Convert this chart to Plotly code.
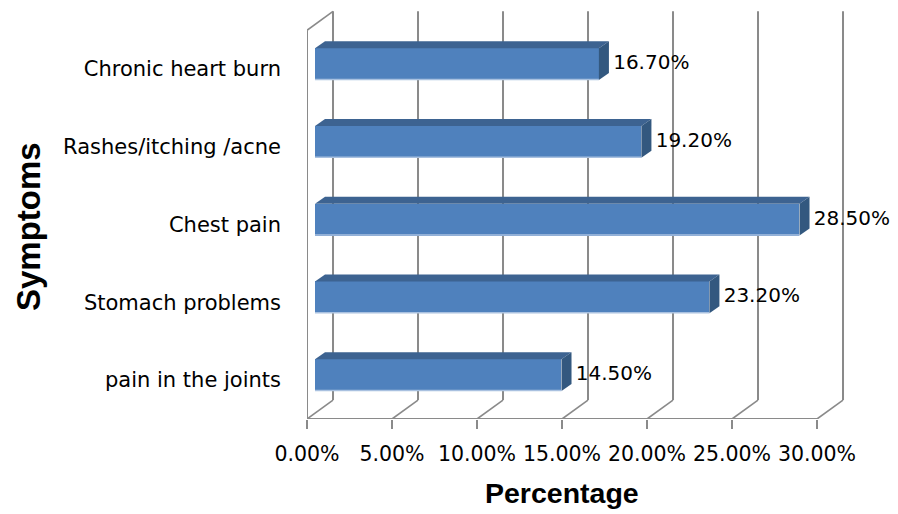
import plotly.graph_objects as go

# ---------------- data ----------------
categories = ["pain in the joints", "Stomach problems", "Chest pain",
              "Rashes/itching /acne", "Chronic heart burn"]
values = [14.5, 23.2, 28.5, 19.2, 16.7]
value_labels = ["14.50%", "23.20%", "28.50%", "19.20%", "16.70%"]
x_ticks = [0, 5, 10, 15, 20, 25, 30]
x_tick_labels = ["0.00%", "5.00%", "10.00%", "15.00%", "20.00%", "25.00%", "30.00%"]
x_title = "Percentage"
y_title = "Symptoms"

# ---------------- style / geometry (pseudo 3D) ----------------
WALL_DX, WALL_DY = 1.53, 0.244      # depth offset of the back wall
BAR_X0 = 0.47                       # bar front face starts slightly behind front plane
BAR_DDX, BAR_DDY = 0.59, 0.09       # depth of a bar
BAR_W = 0.41
BAR_SHIFT = 0.064
GRID = "#8a8a8a"
FRONT = "#4F81BD"
TOP = "#3D6391"
SIDE = "#33587F"
FONT = "DejaVu Sans"

n = len(categories)
ypos = [i + 0.5 for i in range(n)]
yc = [y + BAR_SHIFT for y in ypos]
xmax = x_ticks[-1]

shapes = []
def line(x0, y0, x1, y1, layer="below", color=GRID, width=2):
    shapes.append(dict(type="line", xref="x", yref="y", x0=x0, y0=y0, x1=x1, y1=y1,
                       line=dict(color=color, width=width), layer=layer))

# back wall verticals and floor diagonals
for t in x_ticks:
    line(t + WALL_DX, WALL_DY, t + WALL_DX, n + WALL_DY)
    line(t, 0, t + WALL_DX, WALL_DY, width=1.6)
# front floor edge
line(0, 0, xmax, 0)
# left side wall
line(0, 0, 0, n)
line(0, n, WALL_DX, n + WALL_DY, width=1.6)

# bar 3D faces
for v, y in zip(values, yc):
    x0 = BAR_X0
    x1 = BAR_X0 + v
    yt = y + BAR_W / 2
    yb = y - BAR_W / 2
    shapes.append(dict(type="path", xref="x", yref="y", layer="above",
                       path=f"M {x0},{yt} L {x1},{yt} L {x1+BAR_DDX},{yt+BAR_DDY} L {x0+BAR_DDX},{yt+BAR_DDY} Z",
                       fillcolor=TOP, line=dict(width=0)))
    shapes.append(dict(type="path", xref="x", yref="y", layer="above",
                       path=f"M {x1},{yb} L {x1},{yt} L {x1+BAR_DDX},{yt+BAR_DDY} L {x1+BAR_DDX},{yb+BAR_DDY} Z",
                       fillcolor=SIDE, line=dict(width=0)))
    shapes.append(dict(type="line", xref="x", yref="y", layer="above",
                       x0=x0, x1=x1, y0=yb + 0.006, y1=yb + 0.006,
                       line=dict(color="#A9C1E0", width=1.5)))

fig = go.Figure()
fig.add_trace(go.Bar(orientation="h", x=values, y=yc, base=BAR_X0, width=BAR_W,
                     marker=dict(color=FRONT, line=dict(width=0)), hoverinfo="skip"))
fig.add_trace(go.Scatter(x=[BAR_X0 + v + BAR_DDX + 0.25 for v in values], y=yc,
                         mode="text", text=value_labels, textposition="middle right",
                         textfont=dict(family=FONT, size=20, color="#000"),
                         cliponaxis=False, hoverinfo="skip"))

# page has an 8px body margin; figure fills the rest of the window
FW, FH = 890, 506
L, T = 299, 0
W = 544
R = FW - L - W
H = 411
B = FH - T - H

fig.update_layout(
    width=FW, height=FH, margin=dict(l=L, r=R, t=T, b=B, autoexpand=False),
    paper_bgcolor="white", plot_bgcolor="white", showlegend=False,
    bargap=0, shapes=shapes,
    xaxis=dict(range=[0, W / 17.0], tickvals=x_ticks, ticktext=x_tick_labels,
               showgrid=False, zeroline=False, showline=False, automargin=False,
               ticks="outside", ticklen=9, tickwidth=2, tickcolor=GRID,
               ticklabelstandoff=7,
               tickfont=dict(family=FONT, size=20.5, color="#000")),
    yaxis=dict(range=[0, H / 77.75], tickvals=ypos, ticktext=categories,
               showgrid=False, zeroline=False, showline=False, ticks="",
               automargin=False, ticklabelstandoff=25,
               tickfont=dict(family=FONT, size=21, color="#000")),
    annotations=[
        dict(text=x_title, xref="x", yref="paper", x=xmax / 2, y=-(485 - H) / H,
             xanchor="center", yanchor="middle", showarrow=False,
             font=dict(family="Liberation Sans", size=28.5, color="#000", weight="bold")),
        dict(text=y_title, xref="paper", yref="paper", x=(20 - L) / W, y=(H - 219) / H,
             xanchor="center", yanchor="middle", textangle=-90, showarrow=False,
             font=dict(family="Liberation Sans", size=33, color="#000", weight="bold")),
    ],
)

fig.write_html("out.html")
